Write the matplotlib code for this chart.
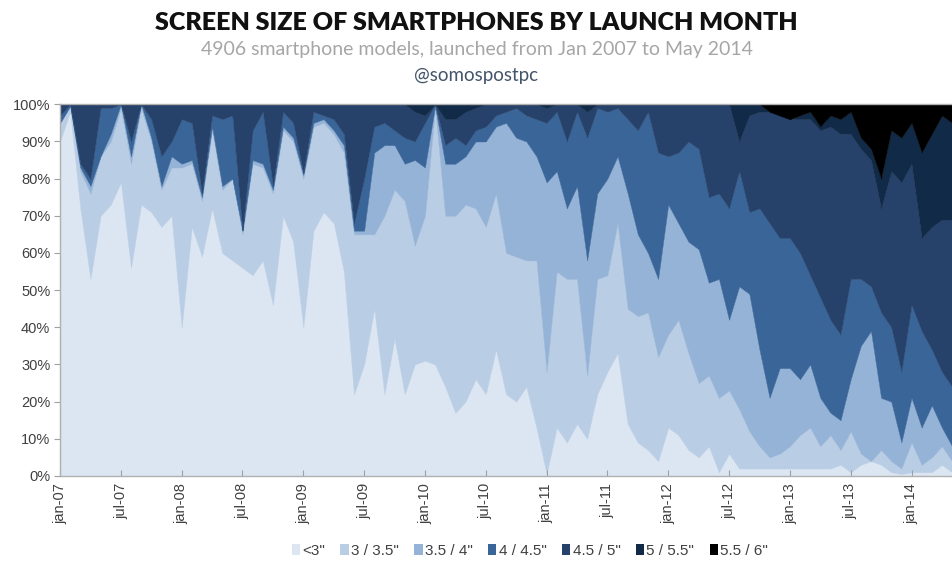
import numpy as np
import pandas as pd
import matplotlib.pyplot as plt
from matplotlib.patches import Patch

# monthly launches, Jan 2007 .. May 2014
months = pd.date_range("2007-01-01", "2014-05-01", freq="MS")

# upper edge (cumulative %) of each size band
top_lt3 = [90, 98, 72, 53, 70, 73, 79, 56, 73, 71, 67, 70, 40, 67, 59,
           72, 60, 58, 56, 54, 58, 46, 70, 63, 40, 66, 71, 68, 55, 22,
           30, 45, 22, 37, 22, 30, 31, 30, 24, 17, 20, 26, 22, 34,
           22, 20, 24, 13, 0.5, 13, 9, 14, 10, 22, 28, 33, 14,
           9, 7, 4, 13, 11, 7, 5, 8, 1, 6, 2, 2, 2, 2, 2, 2,
           2, 2, 2, 2, 3, 1, 3, 4, 3, 1, 0.5, 1, 1, 1, 3, 1]
top_3_35 = [95, 99.5, 82, 76, 86, 90, 99, 84, 99, 90, 77, 83, 83, 84, 74,
            93, 77, 80, 65, 84, 83, 76, 93, 90, 80, 94, 95, 92, 87, 65,
            65, 65, 70, 77, 74, 62, 70, 99, 70, 70, 73, 72, 67, 76,
            60, 59, 58, 58, 28, 55, 53, 53, 27, 53, 54, 68, 45,
            43, 44, 32, 38, 42, 33, 25, 27, 21, 23, 18, 12, 8, 5, 6, 8,
            11, 13, 8, 11, 7, 12, 6, 4, 7, 4, 2, 9, 3, 5, 8, 4]
top_35_4 = [95, 99.5, 83, 78, 86, 92, 100, 86, 100, 91, 78, 86, 84, 85, 75,
            94, 78, 80, 66, 85, 84, 77, 94, 91, 81, 95, 96, 93, 89, 66,
            66, 87, 89, 89, 84, 85, 83, 99.5, 84, 84, 86, 90, 90, 94,
            95, 91, 90, 86, 79, 82, 72, 78, 58, 76, 80, 86, 76,
            65, 60, 53, 73, 68, 63, 61, 52, 53, 42, 51, 49, 34, 21, 29, 29,
            26, 30, 21, 17, 15, 26, 35, 39, 21, 20, 9, 21, 13, 19, 13, 8]
top_4_45 = [97, 100, 84, 80, 99, 99, 100, 90, 100, 96, 86, 90, 96, 95, 76,
            97, 96, 97, 66, 93, 98, 78, 98, 95, 81.5, 98, 97, 96, 92, 68,
            80, 94, 95, 93, 91, 90, 95, 100, 89, 91, 89, 93, 94, 97,
            98, 99, 97, 96, 95, 98, 90, 98, 91, 99, 98, 99, 96,
            93, 98, 87, 86, 87, 90, 88, 75, 76, 72, 82, 71, 72, 68, 64, 64,
            60, 54, 48, 42, 38, 53, 53, 51, 44, 40, 28, 46, 39, 34, 28, 24]
top_45_5 = [100] * 35 + [98, 97, 100, 96, 96, 98, 99, 100, 100,
            100, 100, 100, 100, 99, 100, 100, 100, 98, 100, 100, 100, 100,
            100, 100, 100, 100, 100, 100, 100, 100, 100, 100, 90, 97, 98, 98, 97, 96,
            96, 96, 93, 94, 92, 92, 88, 85, 72, 82, 79, 84, 64, 67, 69, 69]
top_5_55 = [100] * 70 + [98, 97, 96, 97, 98, 94, 97, 96, 98, 91, 88, 80, 93, 91,
                         95, 87, 92, 97, 95]
top_55_6 = [100] * 89

labels = ['<3"', '3 / 3.5"', '3.5 / 4"', '4 / 4.5"', '4.5 / 5"', '5 / 5.5"', '5.5 / 6"']
colors = ['#dce6f2', '#b9cde5', '#95b3d7', '#3a6599', '#26426a', '#112a48', '#000000']

tick_labels = ['jan-07', 'jul-07', 'jan-08', 'jul-08', 'jan-09', 'jul-09', 'jan-10', 'jul-10',
               'jan-11', 'jul-11', 'jan-12', 'jul-12', 'jan-13', 'jul-13', 'jan-14']

x = np.arange(len(months))
edges = [np.zeros(len(x)), top_lt3, top_3_35, top_35_4, top_4_45, top_45_5, top_5_55, top_55_6]

fig = plt.figure(figsize=(9.53, 5.70), dpi=100)
ax = fig.add_axes([0.063, 0.165, 0.936, 0.652])

for i in range(7):
    ax.fill_between(x, edges[i], edges[i + 1], facecolor=colors[i], edgecolor=colors[i],
                    linewidth=0.3)

ax.set_xlim(0, len(x) - 1)
ax.set_ylim(0, 100)

ax.set_yticks(np.arange(0, 101, 10))
ax.set_yticklabels([f"{v}%" for v in range(0, 101, 10)], fontsize=10.5,
                   color='#404040', family='Liberation Sans')
ax.set_xticks(x[::6])
ax.set_xticklabels(tick_labels, rotation=90, fontsize=10.5, color='#404040',
                   family='Liberation Sans')
ax.tick_params(axis='y', length=4, color='#a0a0a0', pad=3)
ax.tick_params(axis='x', length=4, direction='in', color='#a0a0a0', pad=5)

for s in ['left', 'bottom', 'top']:
    ax.spines[s].set_color('#b0b0b0')
    ax.spines[s].set_linewidth(1)
ax.spines['right'].set_visible(False)

fig.text(0.5, 1 - 23 / 570, "SCREEN SIZE OF SMARTPHONES BY LAUNCH MONTH", ha='center', va='center',
         fontsize=18, fontweight='heavy', color='#111111', family='Lato')
fig.text(0.5, 1 - 50 / 570, "4906 smartphone models, launched from Jan 2007 to May 2014",
         ha='center', va='center', fontsize=14, color='#a6a6a6', family='Lato')
fig.text(0.5, 1 - 75 / 570, "@somospostpc", ha='center', va='center', fontsize=13.5,
         color='#44546a', family='Lato')

handles = [Patch(facecolor=c, edgecolor='none') for c in colors]
fig.legend(handles, labels, loc='center', bbox_to_anchor=(0.556, 1 - 551 / 570), ncol=7,
           frameon=False, handlelength=0.55, handleheight=0.75, handletextpad=0.15,
           columnspacing=1.0, prop={'family': 'Liberation Sans', 'size': 11},
           labelcolor='#404040')

fig.savefig("out.png", dpi=100)
